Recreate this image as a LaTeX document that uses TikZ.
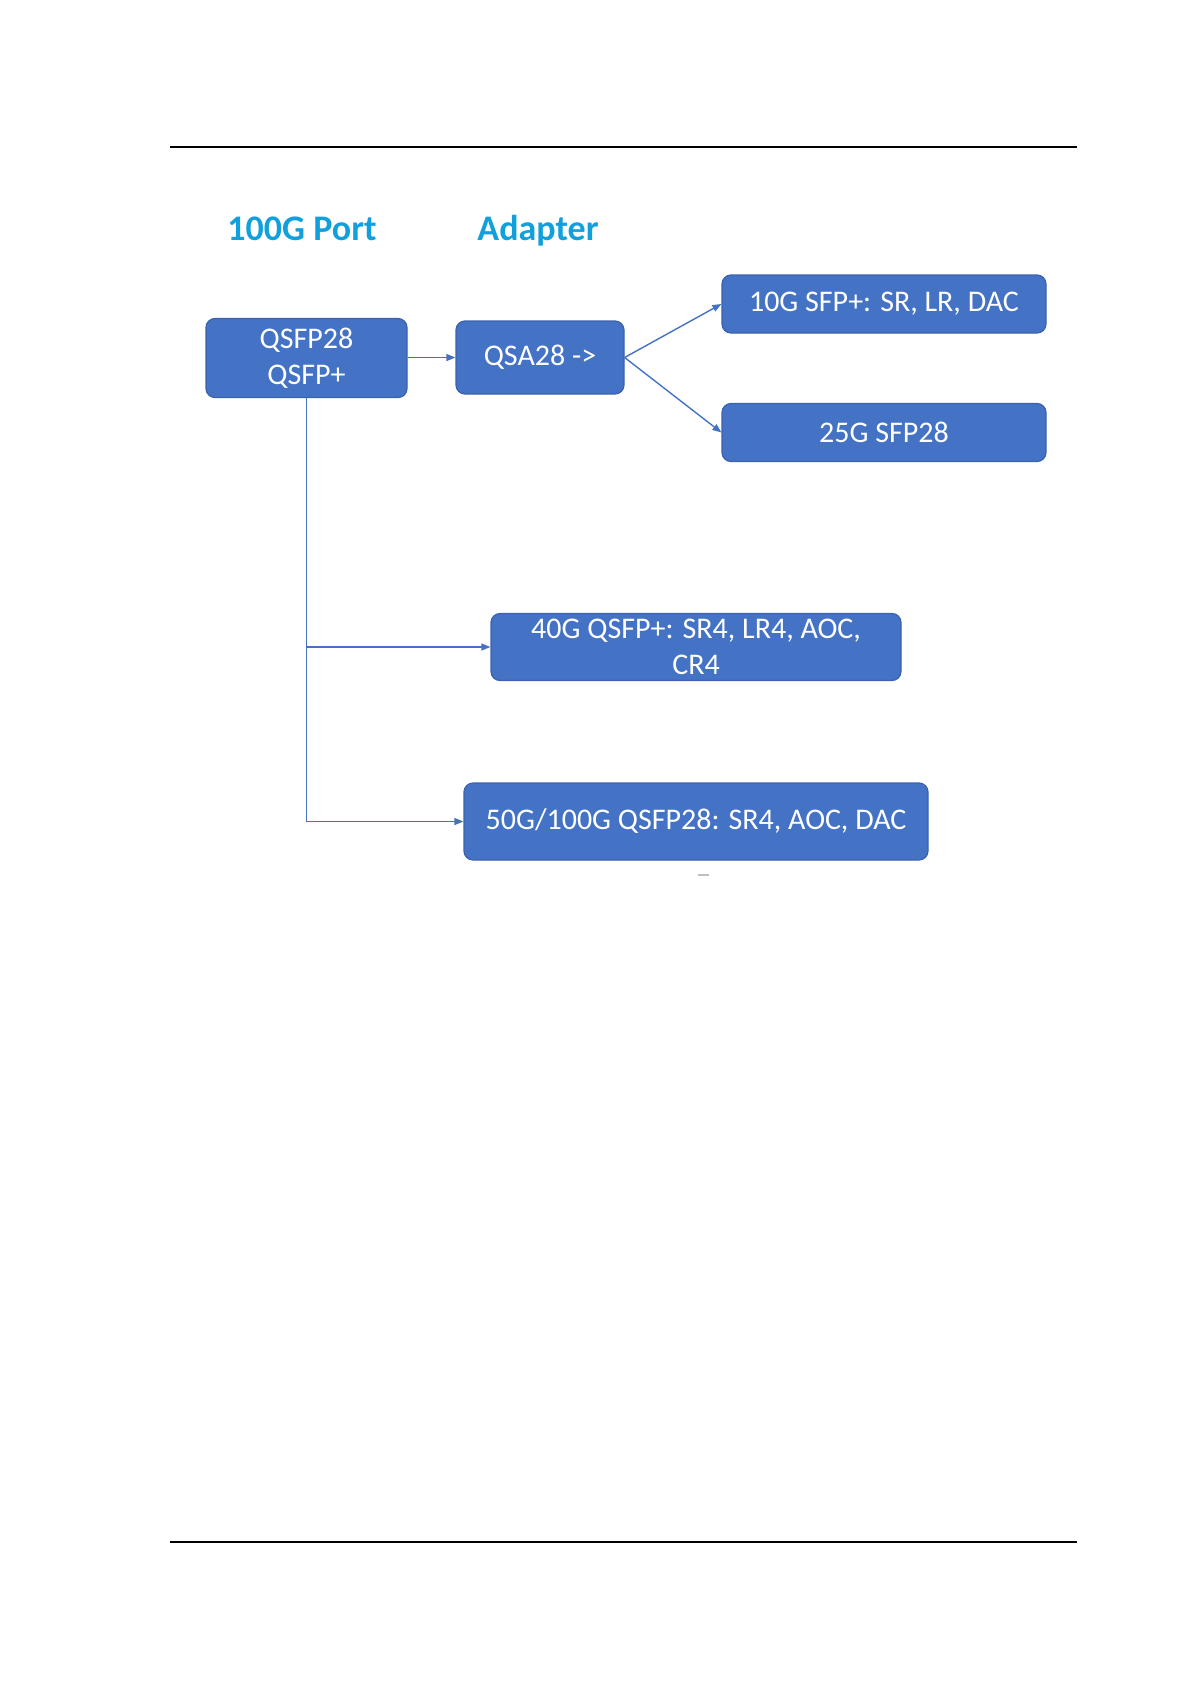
\documentclass[tikz,border=0pt]{standalone}
\usepackage{fontspec}
\setmainfont{Carlito}
\usetikzlibrary{arrows.meta}
\definecolor{boxblue}{HTML}{4472C4}
\definecolor{boxedge}{HTML}{3A62AD}
\definecolor{titleblue}{HTML}{12A0DC}
\begin{document}
\begin{tikzpicture}[x=1pt,y=-1pt,
  box/.style={draw=boxedge,line width=1.2pt,fill=boxblue,rounded corners=9pt,text=white,font=\fontsize{30}{36}\selectfont,align=center,inner sep=0pt},
  link/.style={draw=boxblue,line width=1.4pt,-{Triangle[length=9pt,width=7pt]}},
  heading/.style={text=titleblue,font=\fontsize{36}{42}\selectfont\bfseries,anchor=base}]
\useasboundingbox(0,0)rectangle(1191,1684);
\draw[line width=1.5pt](170,147)--(1077,147)(170,1542)--(1077,1542);
\node[heading](porthead)at(302,240){100G Port};\node[heading](adapthead)at(538,240){Adapter};
\node[box,minimum width=201pt,minimum height=79pt](port)at(306.5,358){QSFP28\\QSFP+};
\node[box,minimum width=168pt,minimum height=73pt](qsa)at(540,357.5){QSA28 ->};
\node[box,minimum width=324pt,minimum height=58pt](sfpten)at(884,304){10G SFP+: SR, LR, DAC};
\node[box,minimum width=324pt,minimum height=58pt](sfptwentyfive)at(884,432.5){25G SFP28};
\node[box,minimum width=410pt,minimum height=67pt](qsfpforty)at(696,647){40G QSFP+: SR4, LR4, AOC,\\CR4};
\node[box,minimum width=464pt,minimum height=77pt](qsfpfifty)at(696,821.5){50G/100G QSFP28: SR4, AOC, DAC};
\draw[link](port.east|-qsa.west)--(qsa.west);
\draw[link](qsa.east)--(sfpten.west);\draw[link](qsa.east)--(sfptwentyfive.west);
\draw[link](port.south)|-(qsfpforty.west);\draw[link](port.south)|-(qsfpfifty.west);
\draw[gray!50,line width=2pt](698,875)--(709,875);
\end{tikzpicture}
\end{document}
